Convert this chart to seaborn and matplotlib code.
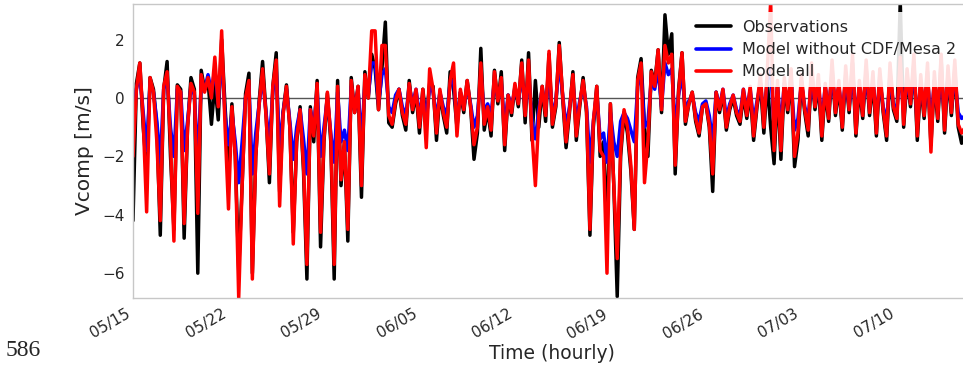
import numpy as np
import pandas as pd
import matplotlib
matplotlib.use("Agg")
import matplotlib.pyplot as plt
import matplotlib.dates as mdates
from matplotlib.lines import Line2D
import seaborn as sns

# ---- data (6-hourly samples, 4 values per day) ----
start = "2018-05-15"
series_names = ["Observations", "Model without CDF/Mesa 2", "Model all"]
series_colors = ["black", "blue", "red"]

observations = [
    -4.2, 0.5, 1.2, -1.0,   -2.5, 0.7, 0.3, -1.0,   -4.7, 0.3, 1.25, -2.0,
    -4.5, 0.45, 0.3, -4.8,  -1.0, 0.7, 0.3, -6.0,   0.95, 0.3, 0.6, -0.9,
    0.5, -0.75, 2.0, -0.3,  -2.3, -0.2, -2.0, -5.9, -3.0, 0.15, 0.85, -6.0,
    -2.0, -0.1, 1.25, -0.5, -2.9, 0.4, 1.55, -3.2,  -0.5, 0.45, -1.0, -4.6,
    -1.5, -0.3, -2.5, -6.2, -0.3, -1.5, 0.6, -5.1,  -1.5, 0.15, -1.5, -6.2,
    0.6, -3.0, -1.5, -4.9,  0.7, -0.5, 0.4, -3.4,   0.9, 0.0, 1.5, 1.0,
    -0.4, 1.0, 2.6, -0.85,  -1.0, -0.2, 0.3, -0.6,  -1.1, 0.6, -0.5, 0.2,
    -1.2, 0.3, -0.8, 0.5,   0.4, -1.45, 0.2, -0.6,  -1.2, 0.9, 0.3, -1.0,
    0.2, -0.5, 0.6, -0.3,   -2.1, -1.2, 1.7, -1.1,  -0.4, -1.3, 0.95, -0.2,
    0.9, -1.8, 0.1, -0.6,   0.4, -0.3, 1.3, -0.85,  1.55, -1.45, 0.6, -1.0,
    0.4, -0.8, 1.5, -1.0,   -0.3, 1.9, 0.0, -1.7,   -0.5, 0.9, -1.45, -0.3,
    0.7, -0.5, -4.7, -1.0,  0.4, -2.0, -1.5, -4.5,  -0.2, -3.0, -6.8, -2.0,
    -0.5, -1.2, -2.5, -4.5, 0.7, 1.35, -1.0, -2.0,  0.95, 0.5, 1.65, -0.5,
    2.85, 1.5, 2.2, -2.6,   0.3, 1.55, -0.9, -0.2,  0.2, -0.8, -1.3, -0.3,
    -0.2, -1.0, -3.2, 0.2,  -0.5, 0.2, -1.1, -0.4,  0.0, -0.6, -0.9, 0.1,
    -0.7, 0.2, -1.45, -0.3, 0.5, -1.2, 0.6, -1.0,   -2.25, 0.4, -2.1, 0.5,
    -0.5, 0.8, -2.35, -1.45, 0.6, -0.5, -1.3, 0.9,  -0.4, 0.5, -1.45, 0.3,
    -0.8, 1.0, -0.6, 0.4,   -1.1, 0.8, -0.5, 1.2,   -1.3, 0.4, -0.7, 1.0,
    -0.6, 0.6, -1.3, 0.8,   -0.5, -1.45, 0.9, -0.4, -0.8, 3.3, -1.0, 0.7,
    -0.3, 1.2, -1.45, 0.5,  -0.7, 0.9, -1.6, 0.6,   -0.8, 1.3, -1.2, 0.8,
    -0.6, 1.0, -1.0, -1.55, -1.2,
]

model_without_cdf = [
    -1.0, 0.3, 0.8, -0.5,   -1.8, 0.5, 0.2, -0.8,   -2.2, 0.3, 0.7, -1.0,
    -2.0, 0.3, 0.2, -1.8,   -0.8, 0.4, 0.1, -2.2,   0.5, 0.3, 0.8, 0.2,
    1.0, -0.2, 1.5, -0.6,   -1.6, -0.5, -1.5, -2.9, -1.5, 0.0, 0.4, -2.6,
    -1.2, -0.2, 0.7, -0.5,  -1.5, 0.2, 1.0, -1.8,   -0.5, 0.3, -0.8, -2.1,
    -1.0, -0.4, -1.4, -2.6, -0.4, -1.0, 0.3, -2.0,  -1.0, 0.0, -1.2, -2.2,
    0.2, -1.5, -1.1, -1.8,  0.4, -0.4, 0.3, -1.5,   0.5, 0.1, 1.2, 1.2,
    -0.2, 0.8, 1.0, -0.3,   -0.5, 0.1, 0.3, -0.3,   -0.6, 0.4, -0.2, 0.3,
    -0.6, 0.1, -0.7, 0.4,   0.2, -0.7, 0.2, -0.3,   -0.6, 0.5, 0.6, -0.8,
    0.2, -0.3, 0.4, -0.2,   -1.0, -0.6, 0.8, -0.5,  -0.2, -0.6, 0.6, 0.0,
    0.5, -1.0, 0.1, -0.3,   0.3, -0.1, 0.8, -0.3,   0.8, -0.8, -1.4, -0.4,
    0.3, -0.4, 1.0, -0.6,   -0.1, 1.2, 0.1, -1.0,   -0.3, 0.5, -0.8, -0.1,
    0.4, -0.3, -2.2, -0.8,  0.2, -1.4, -1.2, -2.2,  -0.5, -1.5, -2.0, -0.8,
    -0.5, -0.7, -1.1, -1.5, 0.4, 0.9, -1.0, -0.8,   0.6, 0.3, 1.0, -0.3,
    1.2, 0.8, 1.0, -1.0,    0.1, 0.8, -0.4, -0.1,   0.1, -0.5, -0.8, -0.2,
    -0.1, -0.6, -1.5, 0.2,  -0.3, 0.3, -0.7, -0.2,  0.1, -0.4, -0.6, 0.3,
    -0.4, 0.3, -0.8, -0.1,  0.5, -0.6, 0.6, 1.0,    -1.0, 0.4, -1.0, 0.5,
    -0.2, 0.6, -1.1, -0.7,  0.5, -0.3, -0.7, 0.7,   -0.2, 0.5, -0.8, 0.4,
    -0.4, 0.8, -0.3, 0.4,   -0.6, 0.7, -0.3, 0.9,   -0.7, 0.4, -0.4, 0.8,
    -0.3, 0.6, -0.7, 0.6,   -0.3, -0.8, 0.7, -0.2,  -0.4, 0.9, -0.5, 0.6,
    -0.1, 0.9, -0.8, 0.5,   -0.4, 0.7, -1.0, 0.6,   -0.4, 0.9, -0.7, 0.7,
    -0.3, 0.8, -0.5, -0.7,  -0.6,
]

model_all = [
    -2.0, 0.3, 1.2, -0.8,   -3.9, 0.7, 0.2, -1.5,   -4.2, 0.4, 0.9, -1.5,
    -4.9, 0.4, 0.2, -4.3,   -1.0, 0.5, 0.2, -3.95,  0.8, 0.2, 0.7, 0.0,
    1.4, -0.3, 2.3, -1.0,   -3.8, -0.3, -2.0, -6.85, -3.0, 0.0, 0.6, -6.2,
    -2.0, -0.2, 1.0, -0.6,  -2.6, 0.4, 1.3, -3.7,   -0.6, 0.4, -1.0, -5.0,
    -1.4, -0.4, -2.3, -5.7, -0.4, -1.3, 0.5, -4.6,  -1.4, 0.2, -1.3, -5.7,
    0.4, -2.8, -1.5, -4.5,  0.6, -0.5, 0.4, -3.0,   0.8, 0.0, 2.3, 2.3,
    -0.4, 1.8, 1.8, -0.6,   -0.9, -0.1, 0.3, -0.5,  -0.9, 0.5, -0.4, 0.3,
    -1.0, 0.3, -1.7, 1.0,   0.3, -1.2, 0.3, -0.5,   -1.0, 0.6, 1.2, -1.3,
    0.3, -0.4, 0.6, -0.3,   -1.6, -1.0, 1.2, -0.9,  -0.3, -1.1, 0.9, -0.1,
    0.7, -1.6, 0.1, -0.5,   0.5, -0.2, 1.2, -0.6,   1.3, -1.2, -3.0, -0.6,
    0.4, -0.6, 1.6, -0.9,   -0.2, 1.8, 0.1, -1.5,   -0.4, 0.8, -1.3, -0.2,
    0.6, -0.4, -4.5, -0.8,  0.4, -1.8, -2.0, -6.0,  -0.2, -3.0, -5.5, -1.8,
    -0.4, -1.0, -2.3, -4.5, 0.6, 1.2, -2.9, -1.5,   0.9, 0.4, 1.65, -0.4,
    1.8, 1.2, 1.5, -2.3,    0.2, 1.55, -0.8, -0.2,  0.2, -0.7, -1.2, -0.3,
    -0.2, -0.9, -2.6, 0.2,  -0.4, 0.3, -1.0, -0.3,  0.1, -0.5, -0.8, 0.3,
    -0.6, 0.4, -1.3, -0.2,  0.8, -1.0, 0.9, 3.3,    -1.8, 0.6, -1.8, 0.7,
    -0.4, 1.0, -2.0, -1.2,  0.8, -0.4, -1.1, 1.2,   -0.3, 0.8, -1.3, 0.5,
    -0.7, 1.3, -0.5, 0.6,   -1.0, 1.1, -0.4, 1.5,   -1.2, 0.6, -0.6, 1.3,
    -0.5, 0.9, -1.2, 1.0,   -0.4, -1.3, 1.2, -0.3,  -0.7, 1.4, -0.9, 1.0,
    -0.2, 1.5, -1.3, 0.8,   -0.6, 1.2, -1.85, 0.9,  -0.7, 1.5, -1.1, 1.1,
    -0.5, 1.3, -0.9, -1.2,  -1.0,
]

y_ticks = [-6, -4, -2, 0, 2]
x_tick_labels = ["05/15", "05/22", "05/29", "06/05", "06/12", "06/19", "06/26", "07/03", "07/10"]

# ---- build long-form table ----
times = pd.date_range(start, periods=len(observations), freq="6h")
frames = []
for name, vals in zip(series_names, [observations, model_without_cdf, model_all]):
    frames.append(pd.DataFrame({"time": times[:len(vals)], "value": vals, "series": name}))
df = pd.concat(frames, ignore_index=True)

sns.set_style("white")
plt.rcParams["font.family"] = ["DejaVu Sans"]

W, H = 963, 371
fig = plt.figure(figsize=(W / 100, H / 100), dpi=100)
t0 = pd.Timestamp(start)
xmax_days = 61.5
px_per_day = 13.64
ax_left = 133 / W
ax_width = xmax_days * px_per_day / W
ax_bottom = (H - 298) / H
ax_top = (H - 4) / H
ax = fig.add_axes([ax_left, ax_bottom, ax_width, ax_top - ax_bottom])

ax.axhline(0, color="#555555", lw=1.0, zorder=1)
sns.lineplot(data=df, x="time", y="value", hue="series", hue_order=series_names,
             palette=dict(zip(series_names, series_colors)), linewidth=2.5,
             ax=ax, legend=False, zorder=2)

ax.set_xlim(t0, t0 + pd.Timedelta(days=xmax_days))
ax.set_ylim(-6.85, 3.22)
ax.set_yticks(y_ticks)
ax.set_yticklabels([("\u2212" + str(abs(v))) if v < 0 else str(v) for v in y_ticks], fontsize=11)
tick_dates = [t0 + pd.Timedelta(days=7 * i) for i in range(len(x_tick_labels))]
ax.set_xticks(tick_dates)
ax.set_xticklabels(x_tick_labels, rotation=30, ha="right", fontsize=11)
ax.tick_params(axis="both", length=3, width=0.8, color="0.7", pad=3)

for s in ["left", "top", "bottom"]:
    ax.spines[s].set_color("0.78")
    ax.spines[s].set_linewidth(1.0)
ax.spines["right"].set_visible(False)

ax.set_ylabel("Vcomp [m/s]", fontsize=14.5, labelpad=6)
ax.set_xlabel("Time (hourly)", fontsize=13.5, labelpad=2)

handles = [Line2D([0], [0], color=c, lw=2.6) for c in series_colors]
leg = ax.legend(handles, series_names, loc="upper left",
                bbox_to_anchor=(688 / W, 1 - 12 / H), bbox_transform=fig.transFigure,
                fontsize=11.5, frameon=True, framealpha=0.88, edgecolor="none",
                handlelength=2.2, handletextpad=0.7, labelspacing=0.45,
                borderpad=0.5, borderaxespad=0.0, fancybox=False)
leg.get_frame().set_facecolor("white")

fig.text(6 / W, 1 - 351 / H, "586", fontsize=17, family=["Liberation Serif"], va="center", ha="left")

fig.savefig("out.png", dpi=100)
